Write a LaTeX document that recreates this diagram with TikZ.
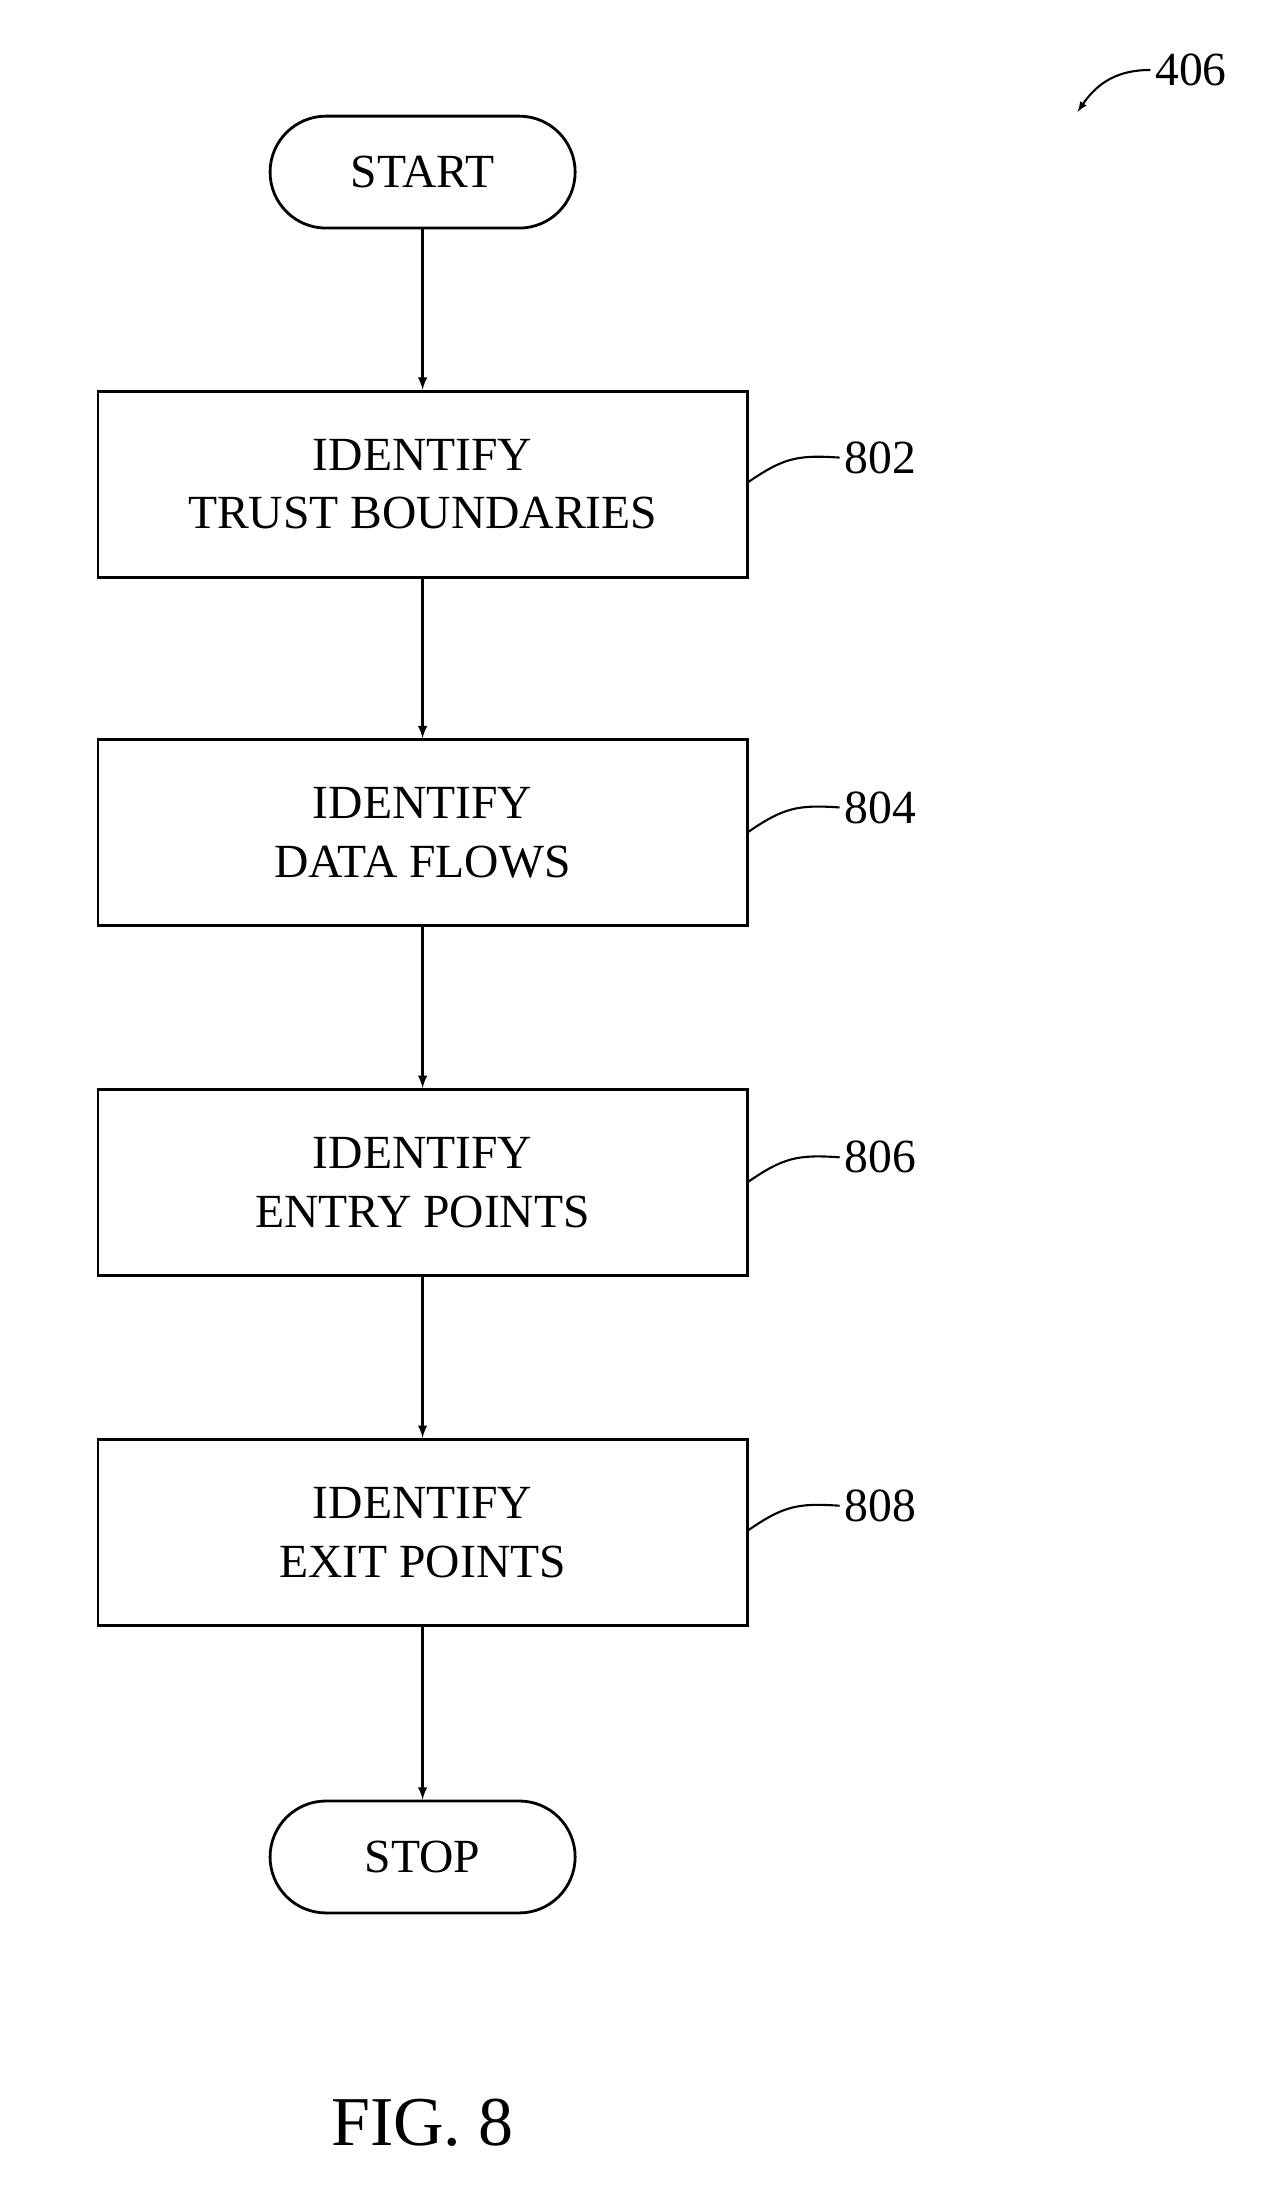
\documentclass[tikz,border=0pt]{standalone}
\usepackage{fontspec}
\setmainfont{Liberation Serif}
\usetikzlibrary{positioning}
\tikzset{
  procbox/.style={draw,line width=2pt,minimum width=464pt,minimum height=133pt,align=center,font=\fontsize{34}{42}\selectfont},
  term/.style={draw,line width=2pt,rounded corners=40pt,minimum width=218pt,minimum height=80pt,font=\fontsize{34}{40}\selectfont},
  flow/.style={->,line width=2pt,>=latex},
  tag/.style={font=\fontsize{34}{40}\selectfont,anchor=west}
}
\begin{document}
\begin{tikzpicture}[x=1pt,y=-1pt]
  \useasboundingbox (0,0) rectangle (902,1565);

  \node[term] (start) at (302,123) {START};
  \node[procbox] (s802) at (302,346) {IDENTIFY\\TRUST BOUNDARIES};
  \node[procbox] (s804) at (302,595) {IDENTIFY\\DATA FLOWS};
  \node[procbox] (s806) at (302,845) {IDENTIFY\\ENTRY POINTS};
  \node[procbox] (s808) at (302,1095) {IDENTIFY\\EXIT POINTS};
  \node[term] (stop) at (302,1327) {STOP};

  \draw[flow] (start) -- (s802);
  \draw[flow] (s802) -- (s804);
  \draw[flow] (s804) -- (s806);
  \draw[flow] (s806) -- (s808);
  \draw[flow] (s808) -- (stop);

  % reference numerals
  \foreach \n/\y in {802/327,804/577,806/827,808/1076}{
    \pgfmathsetmacro\ya{\y+18}
    \pgfmathsetmacro\yb{\y-2}
    \node[tag] (t\n) at (600,\y) {\n};
    \draw[line width=1.5pt] (534,\ya) .. controls (560,\y) and (570,\yb) .. (t\n.west);
  }

  \node[tag] (fig) at (822,50) {406};
  \coordinate (figend) at (770,80);
  \draw[->,line width=1.5pt,>=latex] (fig.west) .. controls (800,50) and (785,58) .. (figend);

  \node[font=\fontsize{50}{60}\selectfont] (caption) at (302,1517) {FIG. 8};
\end{tikzpicture}
\end{document}
